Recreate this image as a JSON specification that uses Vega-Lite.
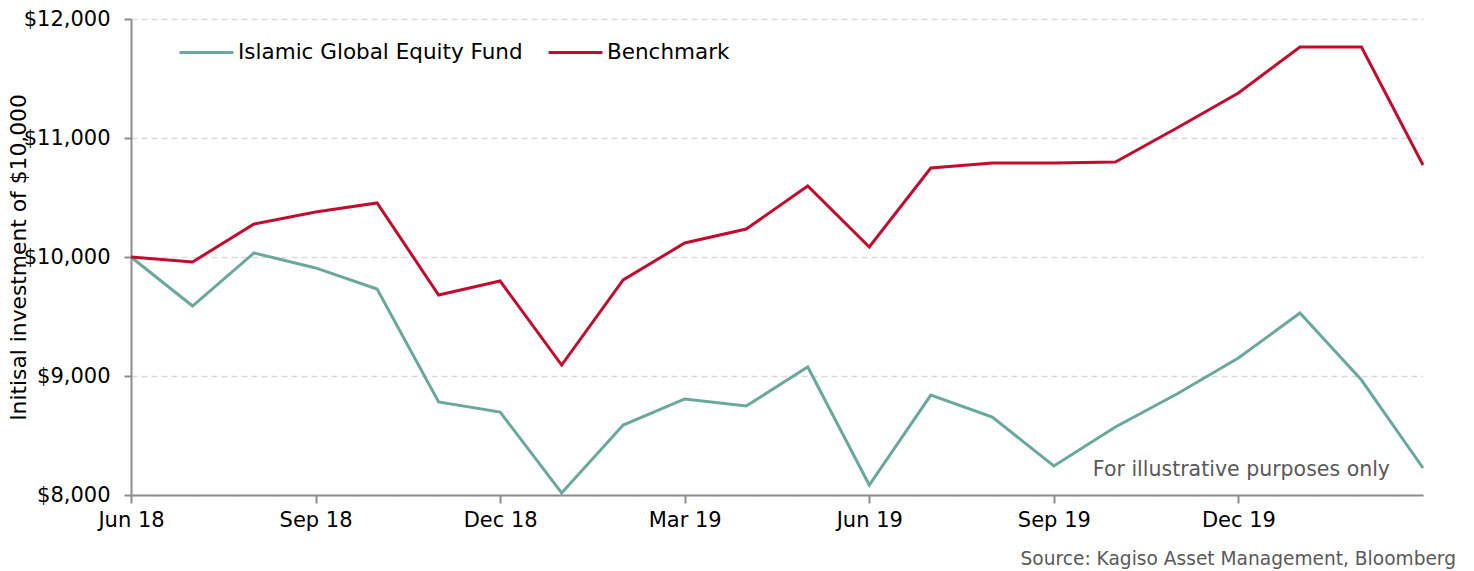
{
  "$schema": "https://vega.github.io/schema/vega-lite/v6.json",
  "width": 1292,
  "height": 476,
  "autosize": {"type": "none"},
  "padding": {"left": 131, "top": 19, "right": 51, "bottom": 76},
  "background": "white",
  "config": {
    "font": "DejaVu Sans",
    "view": {"stroke": null}
  },
  "title": {
    "text": "Source: Kagiso Asset Management, Bloomberg",
    "orient": "bottom",
    "anchor": "end",
    "frame": "group",
    "dx": 33,
    "offset": 20,
    "fontSize": 18.6,
    "fontWeight": "normal",
    "color": "#595959",
    "font": "DejaVu Sans"
  },
  "data": {
    "values": [
      {"month": "Jun 18", "series": "Islamic Global Equity Fund", "value": 10000},
      {"month": "Jul 18", "series": "Islamic Global Equity Fund", "value": 9588},
      {"month": "Aug 18", "series": "Islamic Global Equity Fund", "value": 10034},
      {"month": "Sep 18", "series": "Islamic Global Equity Fund", "value": 9908},
      {"month": "Oct 18", "series": "Islamic Global Equity Fund", "value": 9731},
      {"month": "Nov 18", "series": "Islamic Global Equity Fund", "value": 8782},
      {"month": "Dec 18", "series": "Islamic Global Equity Fund", "value": 8697},
      {"month": "Jan 19", "series": "Islamic Global Equity Fund", "value": 8017},
      {"month": "Feb 19", "series": "Islamic Global Equity Fund", "value": 8588},
      {"month": "Mar 19", "series": "Islamic Global Equity Fund", "value": 8807},
      {"month": "Apr 19", "series": "Islamic Global Equity Fund", "value": 8748},
      {"month": "May 19", "series": "Islamic Global Equity Fund", "value": 9076},
      {"month": "Jun 19", "series": "Islamic Global Equity Fund", "value": 8084},
      {"month": "Jul 19", "series": "Islamic Global Equity Fund", "value": 8840},
      {"month": "Aug 19", "series": "Islamic Global Equity Fund", "value": 8655},
      {"month": "Sep 19", "series": "Islamic Global Equity Fund", "value": 8244},
      {"month": "Oct 19", "series": "Islamic Global Equity Fund", "value": 8571},
      {"month": "Nov 19", "series": "Islamic Global Equity Fund", "value": 8849},
      {"month": "Dec 19", "series": "Islamic Global Equity Fund", "value": 9151},
      {"month": "Jan 20", "series": "Islamic Global Equity Fund", "value": 9529},
      {"month": "Feb 20", "series": "Islamic Global Equity Fund", "value": 8966},
      {"month": "Mar 20", "series": "Islamic Global Equity Fund", "value": 8227},
      {"month": "Jun 18", "series": "Benchmark", "value": 10000},
      {"month": "Jul 18", "series": "Benchmark", "value": 9958},
      {"month": "Aug 18", "series": "Benchmark", "value": 10277},
      {"month": "Sep 18", "series": "Benchmark", "value": 10378},
      {"month": "Oct 18", "series": "Benchmark", "value": 10454},
      {"month": "Nov 18", "series": "Benchmark", "value": 9681},
      {"month": "Dec 18", "series": "Benchmark", "value": 9798},
      {"month": "Jan 19", "series": "Benchmark", "value": 9092},
      {"month": "Feb 19", "series": "Benchmark", "value": 9807},
      {"month": "Mar 19", "series": "Benchmark", "value": 10118},
      {"month": "Apr 19", "series": "Benchmark", "value": 10235},
      {"month": "May 19", "series": "Benchmark", "value": 10597},
      {"month": "Jun 19", "series": "Benchmark", "value": 10084},
      {"month": "Jul 19", "series": "Benchmark", "value": 10748},
      {"month": "Aug 19", "series": "Benchmark", "value": 10790},
      {"month": "Sep 19", "series": "Benchmark", "value": 10790},
      {"month": "Oct 19", "series": "Benchmark", "value": 10798},
      {"month": "Nov 19", "series": "Benchmark", "value": 11084},
      {"month": "Dec 19", "series": "Benchmark", "value": 11378},
      {"month": "Jan 20", "series": "Benchmark", "value": 11765},
      {"month": "Feb 20", "series": "Benchmark", "value": 11765},
      {"month": "Mar 20", "series": "Benchmark", "value": 10773}
    ]
  },
  "layer": [
    {
      "mark": {"type": "line", "strokeWidth": 3, "strokeJoin": "miter"},
      "encoding": {
        "x": {
          "field": "month",
          "type": "ordinal",
          "sort": null,
          "scale": {"type": "point", "padding": 0},
          "axis": {
            "title": null,
            "values": ["Jun 18", "Sep 18", "Dec 18", "Mar 19", "Jun 19", "Sep 19", "Dec 19"],
            "labelAngle": 0,
            "labelFontSize": 21,
            "labelColor": "#000000",
            "labelPadding": 6,
            "tickSize": 8,
            "tickWidth": 2,
            "tickColor": "#8c8c8c",
            "domainColor": "#8c8c8c",
            "domainWidth": 2,
            "grid": false
          }
        },
        "y": {
          "field": "value",
          "type": "quantitative",
          "scale": {"domain": [8000, 12000], "nice": false, "zero": false},
          "axis": {
            "title": "Initisal investment of $10,000",
            "titleFontSize": 21.8,
            "titleFontWeight": "normal",
            "titleColor": "#000000",
            "titleAngle": -90,
            "titleX": -113,
            "titleY": 238,
            "titleAlign": "center",
            "titleBaseline": "middle",
            "values": [8000, 9000, 10000, 11000, 12000],
            "format": "$,.0f",
            "labelFontSize": 21,
            "labelColor": "#000000",
            "labelPadding": 14,
            "tickSize": 7,
            "tickWidth": 2,
            "tickColor": "#8c8c8c",
            "domainColor": "#8c8c8c",
            "domainWidth": 2,
            "grid": true,
            "gridColor": "#d9d9d9",
            "gridDash": [6, 4],
            "gridWidth": 1.5
          }
        },
        "color": {
          "field": "series",
          "type": "nominal",
          "scale": {
            "domain": ["Islamic Global Equity Fund", "Benchmark"],
            "range": ["#6aa89b", "#c00d2f"]
          },
          "legend": {
            "title": null,
            "orient": "none",
            "legendX": 47,
            "legendY": 5,
            "direction": "horizontal",
            "symbolType": "stroke",
            "symbolSize": 2900,
            "symbolStrokeWidth": 3,
            "labelFontSize": 21.5,
            "labelLimit": 0,
            "labelColor": "#000000",
            "labelOffset": 3,
            "columnPadding": 19
          }
        }
      }
    },
    {
      "data": {"values": [{"month": "Mar 20", "value": 8210, "note": "For illustrative purposes only"}]},
      "mark": {"type": "text", "align": "right", "baseline": "middle", "dx": -33, "fontSize": 20.5, "color": "#595959"},
      "encoding": {
        "x": {"field": "month", "type": "ordinal", "sort": null},
        "y": {"field": "value", "type": "quantitative"},
        "text": {"field": "note"}
      }
    }
  ]
}
